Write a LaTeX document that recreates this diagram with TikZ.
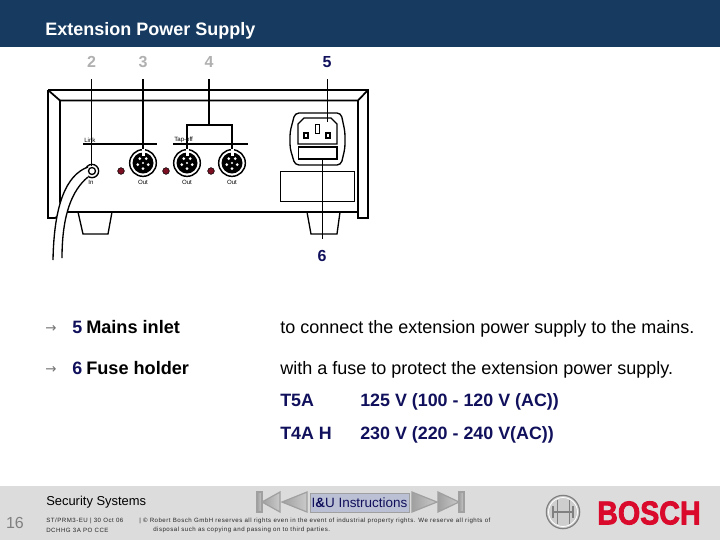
\documentclass[tikz,border=0pt]{standalone}
\usepackage{fontspec}
\setmainfont{Liberation Sans}
\newfontfamily\spacedfont[LetterSpace=8]{Liberation Sans}
\newfontfamily\symfont{DejaVu Sans}
\newfontfamily\brandfont[BoldFeatures={FakeBold=2.5}]{Liberation Sans}
\usepackage{xcolor}
\usetikzlibrary{shapes.geometric, positioning}
\definecolor{boschnavy}{RGB}{22,58,96}
\definecolor{textnavy}{RGB}{16,16,92}
\definecolor{footgray}{RGB}{220,220,220}
\definecolor{leadgray}{RGB}{176,176,176}
\definecolor{boschred}{RGB}{218,10,44}
\definecolor{navgray}{RGB}{160,160,160}
\definecolor{navfill}{RGB}{188,192,212}
\definecolor{ledred}{RGB}{125,15,35}
\tikzstyle{title}    = [anchor=west, inner sep=0pt, text height=9.5pt, text depth=2.5pt, text=white, font=\fontsize{13.5}{15}\selectfont\bfseries]
\tikzstyle{leadgrey} = [inner sep=0pt, text=leadgray, font=\fontsize{12}{14}\selectfont\bfseries]
\tikzstyle{leadblue} = [inner sep=0pt, text=textnavy, font=\fontsize{12}{14}\selectfont\bfseries]
\tikzstyle{head}     = [anchor=west, inner sep=0pt, text height=9.5pt, text depth=2.5pt, font=\fontsize{13.6}{15}\selectfont\bfseries]
\tikzstyle{body}     = [anchor=west, inner sep=0pt, text height=9.5pt, text depth=2.5pt, font=\fontsize{13.5}{15}\selectfont]
\tikzstyle{fuse}     = [anchor=west, inner sep=0pt, text height=9.5pt, text depth=2.5pt, text=textnavy, font=\fontsize{13.4}{15}\selectfont\bfseries]
\tikzstyle{bullet}   = [anchor=west, inner sep=0pt, text=black!55, font=\fontsize{10}{11}\selectfont\symfont]
\tikzstyle{panel}    = [inner sep=0pt, font=\fontsize{4.6}{5}\selectfont]
\tikzstyle{din}      = [circle, draw, line width=1.1pt, fill=white, inner sep=0pt, minimum size=20pt]
\tikzstyle{led}      = [circle, fill=ledred, draw=black, line width=0.4pt, inner sep=0pt, minimum size=5pt]
\tikzstyle{lead}     = [line width=1.1pt, shorten <=8.5pt]
\tikzstyle{thinlead} = [line width=0.7pt, shorten <=8.5pt]
\tikzstyle{case}     = [line width=1.3pt]
\tikzstyle{small}    = [anchor=west, inner sep=0pt, text=black!85, font=\fontsize{4.6}{6}\spacedfont]
\tikzstyle{navtip}   = [draw=navgray, line width=0.9pt, left color=navgray, right color=footgray!80!gray]
\begin{document}
\begin{tikzpicture}[x=0.75pt, y=-0.75pt]
\useasboundingbox (0,0) rectangle (720,540);
\fill[white] (0,0) rectangle (720,540);
\fill[boschnavy] (0,0) rectangle (720,47);
\fill[footgray] (0,486) rectangle (720,540);
\node (ttl) [title] at (45,31) {Extension Power Supply};
% device
\draw[case] (48,90) -- (368,90) -- (368,218) -- (358,218) -- (358,100.5) -- (60,100.5) -- (60,202) -- (65,212) -- (358,212);
\draw[case] (48,90) -- (48,218) -- (55,218) -- (65,212);
\draw[case] (48,90) -- (60,100.5);
\draw[case] (368,90) -- (358,100.5);
\draw[line width=1pt] (78,212) -- (83,234) -- (108,234) -- (112,212);
\draw[line width=1pt] (307,212) -- (311,234) -- (337,234) -- (340,212);
% panel rules
\draw[line width=1pt] (83,144) -- (157,144);
\draw[line width=1pt] (173,144) -- (248,144);
\node (lnk) [panel, anchor=south west] at (84,143) {Link};
\node (tap) [panel, anchor=south west] at (174,143) {Tap-off};
% sockets
\node (jack) [circle, draw, line width=1pt, fill=white, inner sep=0pt, minimum size=10pt] at (92,171) {};
\node (con3) [din] at (143,163) {};
\node (con4a) [din] at (187,163) {};
\node (con4b) [din] at (232,163) {};
\foreach \con in {con3, con4a, con4b} {
  \fill (\con) circle (10.5);
  \fill[white] (\con.north) ++(-1.5,0) rectangle ++(3,7);
  \foreach \ang in {0,72,144,216,288} \fill[white] (\con) ++(\ang+18:5.5) circle (1.5);
  \fill[white] (\con) circle (1.2);
}
\node (led1) [led] at (121,171) {};
\node (led2) [led] at (166,171) {};
\node (led3) [led] at (211,171) {};
\node (lblin) [panel] at (91,182) {In};
\node (lblo1) [panel] at (143,182) {Out};
\node (lblo2) [panel] at (187,182) {Out};
\node (lblo3) [panel] at (232,182) {Out};
% cable
\fill[white] (88,167) .. controls (66,175) and (54,205) .. (53,260) -- (62,258) .. controls (62,215) and (72,190) .. (88,177);
\draw[line width=1pt] (88,167) .. controls (66,175) and (54,205) .. (53,260);
\draw[line width=1pt] (62,258) .. controls (62,215) and (72,190) .. (88,177);
\draw[fill=white, line width=1pt] (jack) circle (3.5);
% inlet
\draw[line width=1pt, rounded corners=3pt] (295,113) -- (341,113) -- (345,132) -- (345,148) -- (341,165) -- (295,165) -- (290,148) -- (290,132) -- cycle;
\draw[line width=1pt] (298,124) -- (304,118) -- (331,118) -- (337,124) -- (337,144) -- (298,144) -- cycle;
\draw[line width=0.7pt] (315,124) rectangle (319,133);
\draw[line width=1.2pt] (304,133) rectangle (308,138);
\draw[line width=1.2pt] (326,133) rectangle (330,138);
\node (fuseslot) [draw, line width=1pt, minimum width=29pt, minimum height=9pt, inner sep=0pt] at (317.7,153) {};
\node (plate) [draw, line width=0.7pt, minimum width=55.5pt, minimum height=22.5pt, inner sep=0pt] at (317,186) {};
\coordinate (pin5) at (327,122);
\coordinate (fuse6) at (322,158);
% callouts
\node (lab2) [leadgrey] at (91.5,62) {2};
\node (lab3) [leadgrey] at (143,62) {3};
\node (lab4) [leadgrey] at (209,62) {4};
\node (lab5) [leadblue] at (327,62) {5};
\node (lab6) [leadblue] at (322,256) {6};
\coordinate (tee) at (209,125);
\draw[thinlead] (lab2) -- (91.5,166);
\draw[lead] (lab3) -- (con3);
\draw[lead] (lab4) -- (tee);
\draw[line width=0.9pt] (tee) -| (con4a);
\draw[line width=0.9pt] (tee) -| (con4b);
\draw[thinlead] (lab5) -- (pin5);
\draw[thinlead] (lab6) -- (fuse6);
% text rows
\node (arr5) [bullet] at (45,328.5) {→};
\node (arr6) [bullet] at (45,369.5) {→};
\node (num5) [fuse] at (72,328.7) {5};
\node (num6) [fuse] at (72,369.7) {6};
\node (mains) [head] at (86,328.7) {Mains inlet};
\node (holder) [head] at (86,369.7) {Fuse holder};
\node (tomains) [body] at (280,328.7) {to connect the extension power supply to the mains.};
\node (tofuse) [body] at (280,369.7) {with a fuse to protect the extension power supply.};
\node (t5a) [fuse] at (280,402.3) {T5A};
\node (t4a) [fuse] at (280,435.3) {T4A H};
\node (v125) [fuse] at (360,402.3) {125 V (100 - 120 V (AC))};
\node (v230) [fuse] at (360,435.3) {230 V (220 - 240 V(AC))};
% footer
\node (pg) [inner sep=0pt, text=black!50, font=\fontsize{12}{14}\selectfont] at (15,523) {16};
\node (sec) [anchor=west, inner sep=0pt, font=\fontsize{9.7}{11}\selectfont] at (46,502) {Security Systems};
\node (ref1) [small] at (46,521) {ST/PRM3-EU | 30 Oct 06};
\node (ref2) [small] at (46,530) {DCHHG 3A PO CCE};
\node (copy1) [small] at (139,521) {| © Robert Bosch GmbH reserves all rights even in the event of industrial property rights. We reserve all rights of};
\node (copy2) [small] at (153,530) {disposal such as copying and passing on to third parties.};
\draw[navtip] (257,492) rectangle (262,512);
\draw[navtip] (262,502) -- (280,492) -- (280,512) -- cycle;
\draw[navtip] (282,502) -- (307,492) -- (307,512) -- cycle;
\node (instr) [draw=navgray, fill=navfill, minimum width=74pt, minimum height=14pt, inner sep=0pt, text=textnavy, font=\fontsize{10.1}{11}\selectfont] at (359.5,502.5) {I\textbf{\&}U Instructions};
\draw[navtip] (412,492) -- (437,502) -- (412,512) -- cycle;
\draw[navtip] (438,492) -- (459,502) -- (438,512) -- cycle;
\draw[navtip] (459,492) rectangle (464,512);
\node (logo) [circle, draw=gray, fill=footgray!85!gray, line width=0.9pt, inner sep=0pt, minimum size=25pt] at (563,512) {};
\draw[white, line width=0.6pt] (logo) circle (14.5);
\draw[gray, line width=1pt] (553,506) -- (553,518) (573,506) -- (573,518) (553,512) -- (573,512);
\draw[gray, line width=0.7pt] (557,500) -- (557,524) (569,500) -- (569,524);
\node (brand) [anchor=west, inner sep=0pt, xscale=0.87, text=boschred, font=\fontsize{24.7}{26}\brandfont\bfseries] at (597,513) {BOSCH};
\end{tikzpicture}
\end{document}
